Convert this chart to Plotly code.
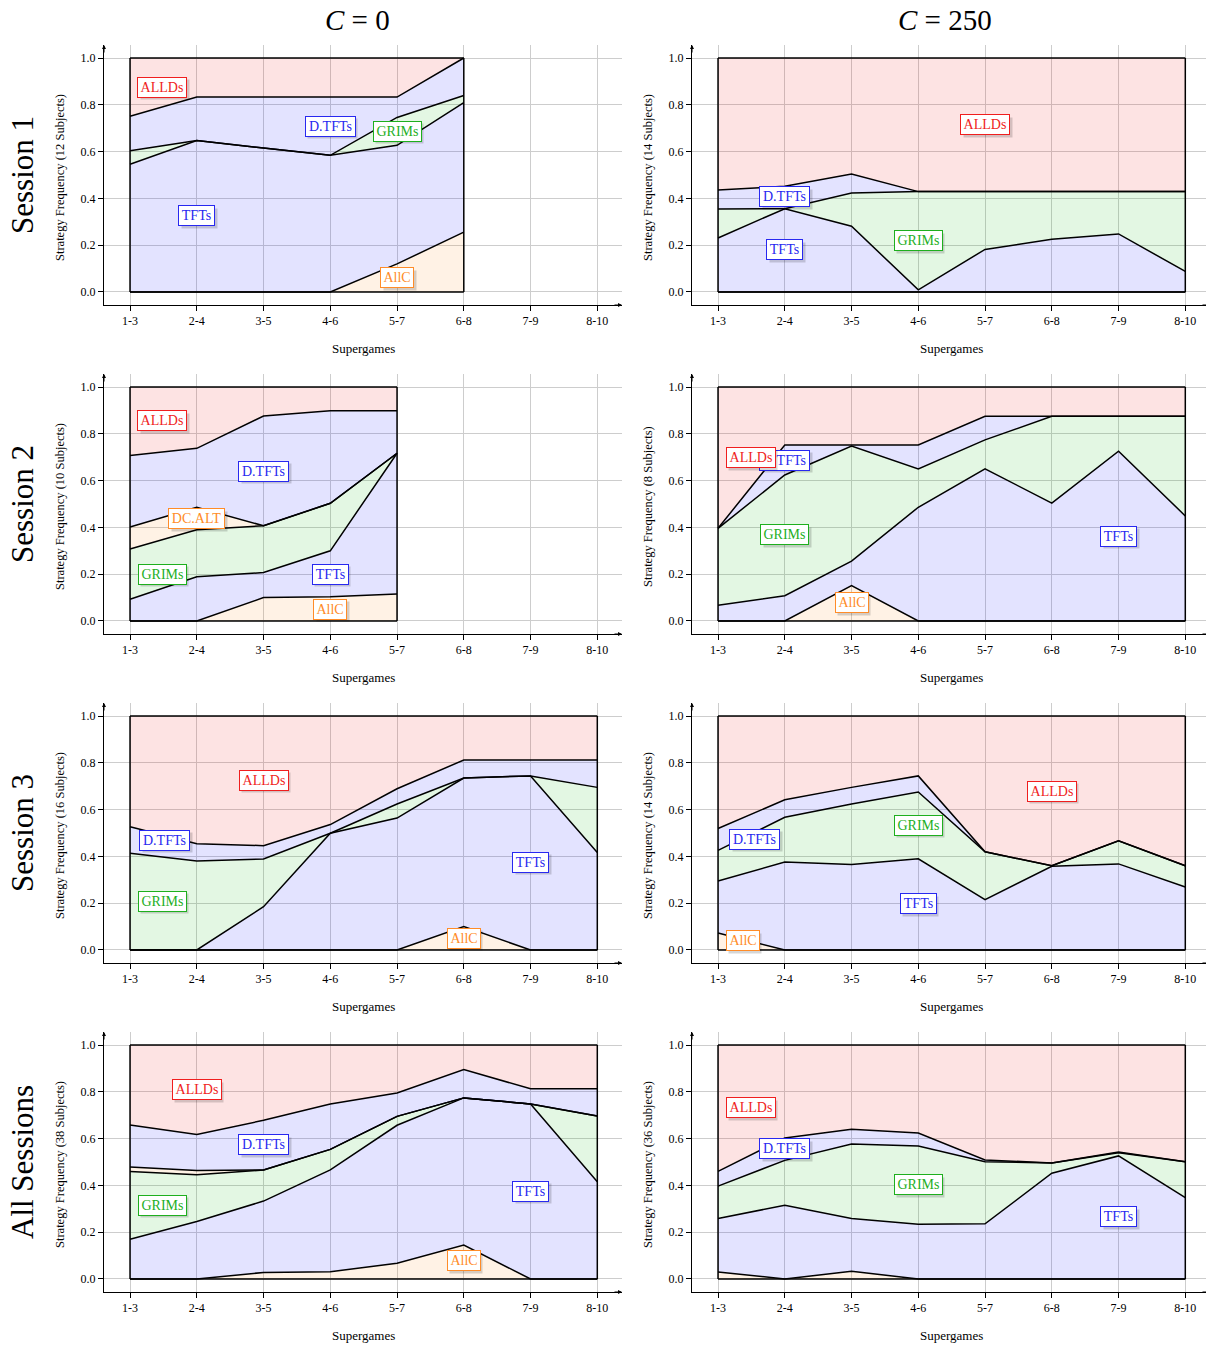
import plotly.graph_objects as go
from plotly.subplots import make_subplots

cats = ["1-3", "2-4", "3-5", "4-6", "5-7", "6-8", "7-9", "8-10"]
yticks = [0.0, 0.2, 0.4, 0.6, 0.8, 1.0]
col_titles = ["<i>C</i> = 0", "<i>C</i> = 250"]
row_titles = ["Session 1", "Session 2", "Session 3", "All Sessions"]

# ---------------- data (strategy frequencies) ----------------
# Session 1, C=0 (12 subjects)
s1c0_allc = [0, 0, 0, 0, 0.12, 0.256]
s1c0_tfts = [0.546, 0.647, 0.615, 0.584, 0.507, 0.553]
s1c0_grims = [0.058, 0, 0, 0, 0.119, 0.031]
s1c0_dtfts = [0.147, 0.186, 0.218, 0.249, 0.087, 0.16]
s1c0_allds = [0.249, 0.167, 0.167, 0.167, 0.167, 0.0]
# Session 1, C=250 (14 subjects)
s1c250_allc = [0, 0, 0, 0, 0, 0, 0, 0]
s1c250_tfts = [0.231, 0.356, 0.281, 0.009, 0.182, 0.225, 0.248, 0.088]
s1c250_grims = [0.124, 0, 0.142, 0.42, 0.247, 0.204, 0.181, 0.341]
s1c250_dtfts = [0.081, 0.096, 0.081, 0, 0, 0, 0, 0]
s1c250_allds = [0.564, 0.548, 0.496, 0.571, 0.571, 0.571, 0.571, 0.571]
# Session 2, C=0 (10 subjects)
s2c0_allc = [0, 0, 0.1, 0.104, 0.115]
s2c0_tfts = [0.093, 0.189, 0.107, 0.196, 0.602]
s2c0_grims = [0.215, 0.201, 0.2, 0.203, 0]
s2c0_dcalt = [0.094, 0.096, 0, 0, 0]
s2c0_dtfts = [0.305, 0.252, 0.469, 0.396, 0.182]
s2c0_allds = [0.293, 0.262, 0.124, 0.101, 0.101]
# Session 2, C=250 (8 subjects)
s2c250_allc = [0, 0, 0.151, 0, 0, 0, 0, 0]
s2c250_tfts = [0.067, 0.108, 0.105, 0.486, 0.65, 0.504, 0.726, 0.449]
s2c250_grims = [0.329, 0.516, 0.492, 0.164, 0.124, 0.371, 0.149, 0.426]
s2c250_dtfts = [0, 0.128, 0.004, 0.102, 0.101, 0, 0, 0]
s2c250_allds = [0.604, 0.248, 0.248, 0.248, 0.125, 0.125, 0.125, 0.125]
# Session 3, C=0 (16 subjects)
s3c0_allc = [0, 0, 0, 0, 0, 0.1, 0, 0]
s3c0_tfts = [0, 0, 0.185, 0.499, 0.564, 0.635, 0.744, 0.417]
s3c0_grims = [0.413, 0.38, 0.204, 0, 0.06, 0, 0, 0.278]
s3c0_dtfts = [0.114, 0.074, 0.057, 0.037, 0.065, 0.077, 0.068, 0.117]
s3c0_allds = [0.473, 0.546, 0.554, 0.464, 0.311, 0.188, 0.188, 0.188]
# Session 3, C=250 (14 subjects)
s3c250_allc = [0.073, 0, 0, 0, 0, 0, 0, 0]
s3c250_tfts = [0.222, 0.376, 0.365, 0.39, 0.215, 0.358, 0.368, 0.269]
s3c250_grims = [0.131, 0.191, 0.259, 0.285, 0.205, 0.002, 0.099, 0.091]
s3c250_dtfts = [0.093, 0.075, 0.071, 0.069, 0, 0, 0, 0]
s3c250_allds = [0.481, 0.358, 0.305, 0.256, 0.58, 0.64, 0.533, 0.64]
# All sessions, C=0 (38 subjects)
allc0_allc = [0, 0, 0.028, 0.031, 0.067, 0.145, 0, 0]
allc0_tfts = [0.17, 0.246, 0.305, 0.435, 0.59, 0.629, 0.748, 0.416]
allc0_grims = [0.289, 0.2, 0.133, 0.088, 0.038, 0, 0, 0.281]
allc0_dcalt = [0.02, 0.018, 0, 0, 0, 0, 0, 0]
allc0_dtfts = [0.179, 0.154, 0.212, 0.194, 0.1, 0.121, 0.065, 0.116]
allc0_allds = [0.342, 0.382, 0.322, 0.252, 0.205, 0.105, 0.187, 0.187]
# All sessions, C=250 (36 subjects)
allc250_allc = [0.03, 0, 0.033, 0, 0, 0, 0, 0]
allc250_tfts = [0.229, 0.315, 0.226, 0.234, 0.236, 0.452, 0.526, 0.348]
allc250_grims = [0.138, 0.192, 0.318, 0.334, 0.265, 0.044, 0.014, 0.153]
allc250_dtfts = [0.063, 0.096, 0.063, 0.056, 0.008, 0, 0.003, 0]
allc250_allds = [0.54, 0.397, 0.36, 0.376, 0.491, 0.504, 0.457, 0.499]

subjects = [[12, 14], [10, 8], [16, 14], [38, 36]]

# ---------------- styles ----------------
FILL = {
    "AllC": "rgba(255,128,0,0.10)",
    "TFTs": "rgba(0,0,255,0.11)",
    "GRIMs": "rgba(0,180,0,0.11)",
    "DC.ALT": "rgba(255,128,0,0.10)",
    "D.TFTs": "rgba(0,0,255,0.11)",
    "ALLDs": "rgba(240,0,0,0.11)",
}
TXT = {
    "AllC": "rgb(255,140,40)",
    "TFTs": "rgb(40,40,240)",
    "GRIMs": "rgb(30,175,30)",
    "DC.ALT": "rgb(255,140,40)",
    "D.TFTs": "rgb(40,40,240)",
    "ALLDs": "rgb(240,30,30)",
}
LABEL_W = {"AllC": 30, "TFTs": 33, "GRIMs": 45, "DC.ALT": 53, "D.TFTs": 47, "ALLDs": 46}
FONT = "Liberation Serif"

panels = [
    (1, 1, [("AllC", s1c0_allc), ("TFTs", s1c0_tfts), ("GRIMs", s1c0_grims),
            ("D.TFTs", s1c0_dtfts), ("ALLDs", s1c0_allds)],
     [("ALLDs", 0.48, 0.876), ("D.TFTs", 3.0, 0.709), ("GRIMs", 4.0, 0.688),
      ("TFTs", 1.0, 0.325), ("AllC", 4.0, 0.06)]),
    (1, 2, [("AllC", s1c250_allc), ("TFTs", s1c250_tfts), ("GRIMs", s1c250_grims),
            ("D.TFTs", s1c250_dtfts), ("ALLDs", s1c250_allds)],
     [("ALLDs", 4.0, 0.714), ("D.TFTs", 1.0, 0.406), ("TFTs", 1.0, 0.18),
      ("GRIMs", 3.0, 0.218)]),
    (2, 1, [("AllC", s2c0_allc), ("TFTs", s2c0_tfts), ("GRIMs", s2c0_grims),
            ("DC.ALT", s2c0_dcalt), ("D.TFTs", s2c0_dtfts), ("ALLDs", s2c0_allds)],
     [("ALLDs", 0.48, 0.855), ("D.TFTs", 2.0, 0.641), ("DC.ALT", 1.0, 0.436),
      ("GRIMs", 0.48, 0.2), ("TFTs", 3.0, 0.2), ("AllC", 3.0, 0.05)]),
    (2, 2, [("AllC", s2c250_allc), ("TFTs", s2c250_tfts), ("GRIMs", s2c250_grims),
            ("D.TFTs", s2c250_dtfts), ("ALLDs", s2c250_allds)],
     [("D.TFTs", 1.0, 0.688), ("ALLDs", 0.49, 0.697), ("GRIMs", 1.0, 0.368),
      ("AllC", 2.0, 0.077), ("TFTs", 6.0, 0.363)]),
    (3, 1, [("AllC", s3c0_allc), ("TFTs", s3c0_tfts), ("GRIMs", s3c0_grims),
            ("D.TFTs", s3c0_dtfts), ("ALLDs", s3c0_allds)],
     [("ALLDs", 2.0, 0.726), ("D.TFTs", 0.52, 0.47), ("GRIMs", 0.48, 0.209),
      ("TFTs", 6.0, 0.376), ("AllC", 5.0, 0.05)]),
    (3, 2, [("AllC", s3c250_allc), ("TFTs", s3c250_tfts), ("GRIMs", s3c250_grims),
            ("D.TFTs", s3c250_dtfts), ("ALLDs", s3c250_allds)],
     [("ALLDs", 5.0, 0.679), ("D.TFTs", 0.55, 0.474), ("GRIMs", 3.0, 0.534),
      ("TFTs", 3.0, 0.197), ("AllC", 0.37, 0.04)]),
    (4, 1, [("AllC", allc0_allc), ("TFTs", allc0_tfts), ("GRIMs", allc0_grims),
            ("DC.ALT", allc0_dcalt), ("D.TFTs", allc0_dtfts), ("ALLDs", allc0_allds)],
     [("ALLDs", 1.0, 0.808), ("D.TFTs", 2.0, 0.573), ("GRIMs", 0.48, 0.316),
      ("TFTs", 6.0, 0.376), ("AllC", 5.0, 0.077)]),
    (4, 2, [("AllC", allc250_allc), ("TFTs", allc250_tfts), ("GRIMs", allc250_grims),
            ("D.TFTs", allc250_dtfts), ("ALLDs", allc250_allds)],
     [("ALLDs", 0.49, 0.731), ("D.TFTs", 1.0, 0.556), ("GRIMs", 3.0, 0.402),
      ("TFTs", 6.0, 0.265)]),
]

W, H = 1214, 1346
OFF = 8  # page body margin
COL_PX = [(104, 622), (692, 1210)]
ROW_TOP = 45
ROW_STEP = 329
ROW_H = 260


def px_x(x):
    return (x - OFF) / W


def px_y(y):
    return 1 - (y - OFF) / H


fig = make_subplots(rows=4, cols=2)
annotations = []

for (r, c, series, labels) in panels:
    n = len(series[0][1])
    xs = cats[:n]
    grp = f"g{r}{c}"
    for name, vals in series:
        fig.add_trace(go.Scatter(
            x=xs, y=vals, stackgroup=grp, mode="lines", name=name,
            line=dict(color="black", width=1.5), fillcolor=FILL[name],
            showlegend=False, hoverinfo="skip"), row=r, col=c)
    # outline of the stacked region (baseline and side edges)
    fig.add_trace(go.Scatter(
        x=[xs[0], xs[-1], None, xs[0], xs[0], None, xs[-1], xs[-1]],
        y=[0, 0, None, 0, 1, None, 0, 1], mode="lines",
        line=dict(color="black", width=1.5), showlegend=False,
        hoverinfo="skip"), row=r, col=c)

    xa = (r - 1) * 2 + c
    xref = "x" if xa == 1 else f"x{xa}"
    yref = "y" if xa == 1 else f"y{xa}"
    for name, lx, ly in labels:
        common = dict(x=lx, y=ly, xref=xref, yref=yref, showarrow=False,
                      borderwidth=1, borderpad=1, xanchor="center", yanchor="middle",
                      width=LABEL_W[name], height=17)
        # drop shadow (no text)
        annotations.append(dict(
            text="&nbsp;", font=dict(family=FONT, size=14, color="rgba(0,0,0,0)"),
            bgcolor="rgba(0,0,0,0.16)", bordercolor="rgba(0,0,0,0)",
            xshift=2.5, yshift=-2.5, **common))
        annotations.append(dict(
            text=name, font=dict(family=FONT, size=14, color=TXT[name]),
            bgcolor="white", bordercolor=TXT[name], **common))

    x0, x1 = COL_PX[c - 1]
    ytop = ROW_TOP + (r - 1) * ROW_STEP
    ybot = ytop + ROW_H
    fig.update_xaxes(
        domain=[px_x(x0), px_x(x1)], type="category", categoryarray=cats,
        categoryorder="array", range=[-0.39, 7.37],
        showline=True, linecolor="black", linewidth=1,
        ticks="outside", ticklen=5, tickcolor="black",
        showgrid=True, gridcolor="rgb(205,205,205)", gridwidth=1,
        tickfont=dict(family=FONT, size=12, color="black"),
        zeroline=False, row=r, col=c)
    fig.update_yaxes(
        domain=[px_y(ybot), px_y(ytop)], range=[-0.0556, 1.0556],
        tickvals=yticks, tickformat=".1f",
        showline=True, linecolor="black", linewidth=1,
        ticks="outside", ticklen=5, tickcolor="black",
        showgrid=True, gridcolor="rgb(205,205,205)", gridwidth=1,
        tickfont=dict(family=FONT, size=12, color="black"),
        zeroline=False, row=r, col=c)

    # axis arrows
    annotations.append(dict(x=px_x(x1), y=px_y(ybot), xref="paper", yref="paper",
                            ax=-9, ay=0, axref="pixel", ayref="pixel", text="",
                            showarrow=True, arrowhead=2, arrowsize=0.8,
                            arrowwidth=1, arrowcolor="black"))
    annotations.append(dict(x=px_x(x0), y=px_y(ytop), xref="paper", yref="paper",
                            ax=0, ay=9, axref="pixel", ayref="pixel", text="",
                            showarrow=True, arrowhead=2, arrowsize=0.8,
                            arrowwidth=1, arrowcolor="black"))
    # axis titles
    annotations.append(dict(x=px_x((x0 + x1) / 2), y=px_y(ybot + 43), xref="paper",
                            yref="paper", text="Supergames", showarrow=False,
                            xanchor="center", yanchor="middle",
                            font=dict(family=FONT, size=13, color="black")))
    annotations.append(dict(x=px_x(x0 - 44), y=px_y((ytop + ybot) / 2 + 3),
                            xref="paper", yref="paper", textangle=-90,
                            xanchor="center", yanchor="middle",
                            text=f"Strategy Frequency ({subjects[r-1][c-1]} Subjects)",
                            showarrow=False,
                            font=dict(family=FONT, size=12.5, color="black")))

# column titles
for i, t in enumerate(col_titles):
    x0, x1 = COL_PX[i]
    annotations.append(dict(x=px_x((x0 + x1) / 2 - 6), y=px_y(20), xref="paper",
                            yref="paper", text=t, showarrow=False,
                            xanchor="center", yanchor="middle", borderpad=0,
                            font=dict(family=FONT, size=29, color="black")))
# row titles
for i, t in enumerate(row_titles):
    yc = ROW_TOP + i * ROW_STEP + ROW_H / 2
    annotations.append(dict(x=px_x(22), y=px_y(yc), xref="paper", yref="paper",
                            text=t, textangle=-90, showarrow=False,
                            xanchor="center", yanchor="middle",
                            font=dict(family=FONT, size=31, color="black")))

fig.update_layout(
    width=W, height=H, margin=dict(l=0, r=0, t=0, b=0),
    plot_bgcolor="white", paper_bgcolor="white",
    annotations=annotations, showlegend=False,
)

fig.write_html("out.html")
